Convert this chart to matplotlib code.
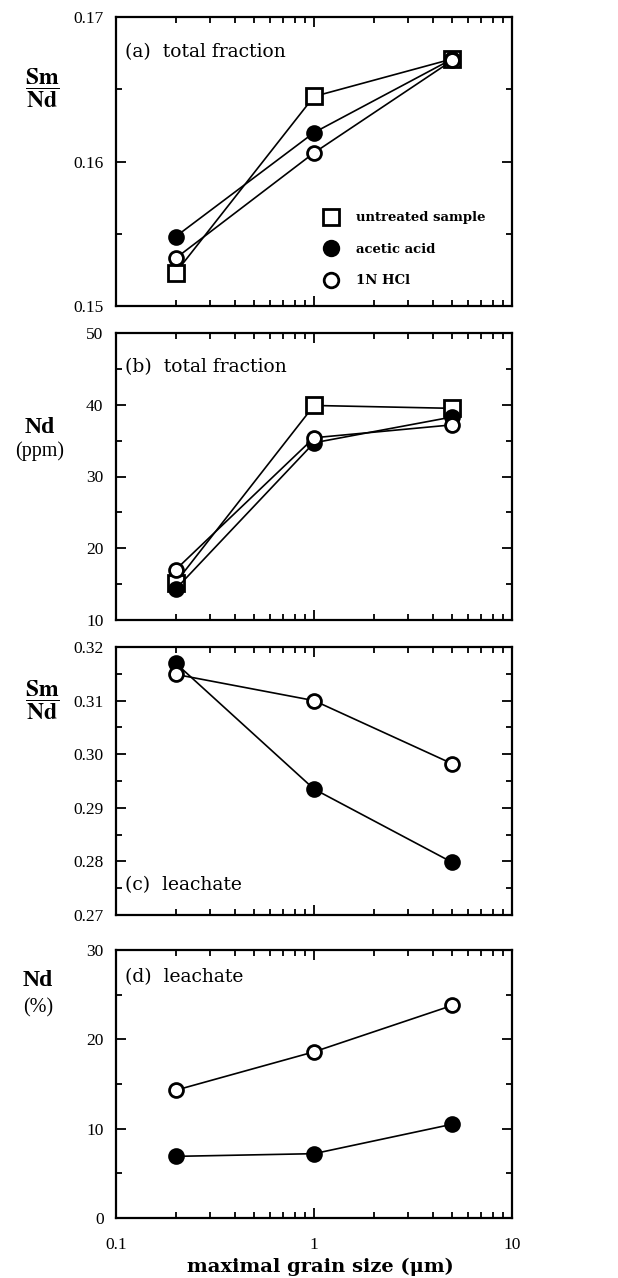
import numpy as np
import matplotlib
matplotlib.use('Agg')
import matplotlib.pyplot as plt
from matplotlib.lines import Line2D
from matplotlib.ticker import LogLocator, MultipleLocator, FixedLocator, NullFormatter

plt.rcParams['mathtext.fontset'] = 'stix'
plt.rcParams['font.family'] = ['Liberation Serif', 'DejaVu Serif']

# grain size (um)
grain = [0.2, 1, 5]

# (a) Sm/Nd, total fraction
a_untreated = [0.1523, 0.1645, 0.1671]
a_acetic = [0.1548, 0.1620, 0.1671]
a_hcl = [0.1533, 0.1606, 0.1670]

# (b) Nd ppm, total fraction
b_untreated = [15.2, 39.9, 39.5]
b_acetic = [14.3, 34.7, 38.3]
b_hcl = [17.0, 35.4, 37.2]

# (c) Sm/Nd, leachate
c_acetic = [0.3170, 0.2935, 0.2798]
c_hcl = [0.3149, 0.3100, 0.2982]

# (d) Nd %, leachate
d_acetic = [6.9, 7.2, 10.5]
d_hcl = [14.3, 18.6, 23.8]

W, H = 618, 1278
fig = plt.figure(figsize=(W / 100, H / 100), dpi=100)

left = 116 / W
width = 396 / W

def make_ax(top_px, bot_px):
    return fig.add_axes([left, 1 - bot_px / H, width, (bot_px - top_px) / H])

ax_a = make_ax(17, 306)
ax_b = make_ax(333, 620)
ax_c = make_ax(647, 915)
ax_d = make_ax(950, 1218)

sq = dict(marker='s', ms=11, mfc='white', mec='black', mew=2.0, color='black', lw=1.2)
fc = dict(marker='o', ms=10.5, mfc='black', mec='black', mew=1.5, color='black', lw=1.2)
oc = dict(marker='o', ms=10, mfc='white', mec='black', mew=2.0, color='black', lw=1.2)


def style(ax, ylim, major, minor, fmt, show_x=False):
    ax.set_xscale('log')
    ax.set_xlim(0.1, 10)
    ax.set_ylim(*ylim)
    ax.xaxis.set_major_locator(FixedLocator([0.1, 1, 10]))
    ax.xaxis.set_minor_locator(LogLocator(base=10, subs=np.arange(2, 10)))
    ax.xaxis.set_minor_formatter(NullFormatter())
    ax.yaxis.set_major_locator(MultipleLocator(major))
    ax.yaxis.set_minor_locator(MultipleLocator(minor))
    ax.yaxis.set_major_formatter(plt.FuncFormatter(lambda v, p: fmt.format(v)))
    ax.tick_params(which='both', direction='in', top=True, right=True, width=1.3,
                   labelsize=12.5)
    ax.tick_params(which='major', length=7)
    ax.tick_params(which='minor', length=4)
    ax.tick_params(axis='y', pad=9)
    if show_x:
        ax.xaxis.set_major_formatter(plt.FuncFormatter(lambda v, p: '{:g}'.format(v)))
        ax.tick_params(axis='x', pad=14)
    else:
        ax.xaxis.set_major_formatter(NullFormatter())
    for s in ax.spines.values():
        s.set_linewidth(1.6)


# panel a
ax_a.plot(grain, a_untreated, **sq)
ax_a.plot(grain, a_acetic, **fc)
ax_a.plot(grain, a_hcl, **oc)
style(ax_a, (0.15, 0.17), 0.01, 0.005, '{:.2f}')

# panel b
ax_b.plot(grain, b_untreated, **sq)
ax_b.plot(grain, b_acetic, **fc)
ax_b.plot(grain, b_hcl, **oc)
style(ax_b, (10, 50), 10, 5, '{:.0f}')

# panel c
ax_c.plot(grain, c_acetic, **fc)
ax_c.plot(grain, c_hcl, **oc)
style(ax_c, (0.27, 0.32), 0.01, 0.005, '{:.2f}')

# panel d
ax_d.plot(grain, d_acetic, **fc)
ax_d.plot(grain, d_hcl, **oc)
style(ax_d, (0, 30), 10, 5, '{:.0f}', show_x=True)

ann = dict(family='DejaVu Serif', size=13.5, va='center', ha='left')
ax_a.text(0.022, 0.88, '(a)  total fraction', transform=ax_a.transAxes, **ann)
ax_b.text(0.022, 0.88, '(b)  total fraction', transform=ax_b.transAxes, **ann)
ax_c.text(0.022, 0.11, '(c)  leachate', transform=ax_c.transAxes, **ann)
ax_d.text(0.022, 0.90, '(d)  leachate', transform=ax_d.transAxes, **ann)

# legend in panel a
handles = [
    Line2D([], [], ls='none', marker='s', ms=12, mfc='white', mec='black', mew=2.0),
    Line2D([], [], ls='none', marker='o', ms=11, mfc='black', mec='black', mew=1.5),
    Line2D([], [], ls='none', marker='o', ms=10.5, mfc='white', mec='black', mew=2.0),
]
ax_a.legend(handles, ['untreated sample', 'acetic acid', '1N HCl'],
            loc='upper left', bbox_to_anchor=(0.51, 0.35), frameon=False,
            prop=dict(family='DejaVu Serif', size=9.5, weight='bold'),
            handlelength=1.0, handletextpad=1.35, labelspacing=1.4, borderpad=0)

# y labels
ylab = dict(size=17, weight='bold', ha='center', va='center')
fig.text(42 / W, 1 - 88 / H, r'$\dfrac{\mathbf{Sm}}{\mathbf{Nd}}$', ha='center', va='center', size=17)
fig.text(40 / W, 1 - 428 / H, 'Nd', **ylab)
fig.text(40 / W, 1 - 451 / H, '(ppm)', size=14.5, ha='center', va='center')
fig.text(42 / W, 1 - 700 / H, r'$\dfrac{\mathbf{Sm}}{\mathbf{Nd}}$', ha='center', va='center', size=17)
fig.text(38 / W, 1 - 980 / H, 'Nd', **ylab)
fig.text(38 / W, 1 - 1008 / H, '(%)', size=14.5, ha='center', va='center')

fig.text(320 / W, 1 - 1267 / H, 'maximal grain size (μm)', family='DejaVu Serif',
         size=14, weight='bold', ha='center', va='center')

fig.savefig('out.png', dpi=100)
